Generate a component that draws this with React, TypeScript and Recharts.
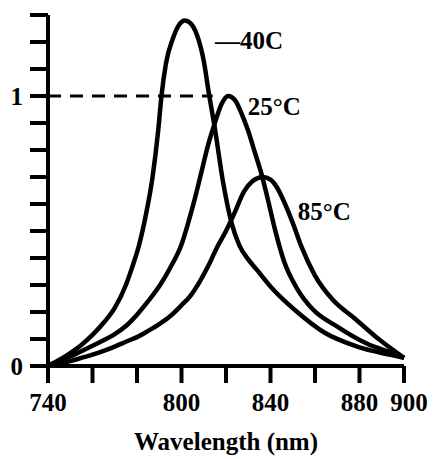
import React from 'react';
import { LineChart, Line, XAxis, YAxis, ReferenceLine, ReferenceDot } from 'recharts';

// Wavelength (nm) and normalised intensity for each temperature
const wlM40 = [740, 745, 750, 755, 760, 765, 770, 775, 778, 781, 784, 787, 789.5, 791, 793, 796, 799, 801.5, 804, 807, 810, 812.3, 815, 818.7, 822.5, 826, 830, 834, 841, 852, 864, 879, 894, 900];
const valM40 = [0, 0.022, 0.048, 0.078, 0.115, 0.16, 0.215, 0.3, 0.37, 0.45, 0.56, 0.7, 0.87, 1.0, 1.12, 1.21, 1.265, 1.28, 1.27, 1.225, 1.13, 1.01, 0.88, 0.68, 0.53, 0.447, 0.395, 0.355, 0.285, 0.2, 0.125, 0.072, 0.041, 0.03];

const wl25 = [740, 745, 750, 755, 760, 765, 770, 775, 780, 785, 790, 795, 800, 803, 806, 809, 812, 815, 818, 821, 824, 827, 830, 833, 836, 839, 842, 846, 852, 859, 870, 883, 897, 900];
const val25 = [0, 0.018, 0.035, 0.055, 0.075, 0.095, 0.118, 0.148, 0.19, 0.24, 0.295, 0.365, 0.45, 0.53, 0.62, 0.72, 0.82, 0.9, 0.97, 1.0, 0.985, 0.935, 0.87, 0.79, 0.71, 0.61, 0.506, 0.39, 0.286, 0.21, 0.146, 0.084, 0.041, 0.03];

const wl85 = [740, 745, 750, 755, 760, 765, 770, 775, 780, 785, 790, 795, 800, 804, 808, 812, 816, 820, 824, 828, 832, 836.5, 840, 843, 846, 850, 854, 860, 868, 878, 889, 900];
const val85 = [0, 0.008, 0.018, 0.03, 0.042, 0.056, 0.072, 0.09, 0.107, 0.13, 0.155, 0.185, 0.225, 0.26, 0.31, 0.37, 0.44, 0.5, 0.57, 0.645, 0.685, 0.7, 0.69, 0.66, 0.61, 0.53, 0.44, 0.335, 0.245, 0.175, 0.097, 0.03];

const xTicks = [740, 760, 780, 800, 820, 840, 860, 880, 900];
const xTickLabels = [740, 800, 840, 880, 900];
const yTicks = [0, 0.1, 0.2, 0.3, 0.4, 0.5, 0.6, 0.7, 0.8, 0.9, 1, 1.1, 1.2, 1.3];
const yTickLabels = [0, 1];

const seriesLabels = ['—40C', '25°C', '85°C'];
const labelWl = [815, 829.8, 852.3];
const labelVal = [1.208, 0.963, 0.572];

const refStart = 740;
const refEnd = 814;
const refValue = 1;

const zip = (w: number[], v: number[]) => w.map((x, i) => ({ wl: x, v: v[i] }));
const dataM40 = zip(wlM40, valM40);
const data25 = zip(wl25, val25);
const data85 = zip(wl85, val85);

const FONT = '"Liberation Serif", "DejaVu Serif", serif';

const XTick = (props: any) => {
  const { x, y, payload } = props;
  const v = payload.value;
  if (!xTickLabels.includes(v)) return null;
  const dx = v === 900 ? 5 : 0;
  return (
    <text x={x + dx} y={y} dy="0.71em" textAnchor="middle" fontFamily={FONT} fontSize={25} fontWeight="bold" fill="#000">
      {v}
    </text>
  );
};

const YTick = (props: any) => {
  const { x, y, payload } = props;
  const v = payload.value;
  if (!yTickLabels.includes(v)) return null;
  return (
    <text x={x} y={y} dy="0.355em" textAnchor="end" fontFamily={FONT} fontSize={25} fontWeight="bold" fill="#000">
      {v}
    </text>
  );
};

const makeLabel = (text: string) => (props: any) => (
  <text x={props.cx} y={props.cy} dy="0.355em" textAnchor="start" fontFamily={FONT} fontSize={25} fontWeight="bold" fill="#000">
    {text}
  </text>
);

export default function App() {
  return (
    <div style={{ position: 'absolute', left: 0, top: 0, width: 433, height: 459, background: '#fff' }}>
      <LineChart width={433} height={459} margin={{ top: 15, right: 29, left: 0, bottom: 0 }}>
        <XAxis
          type="number"
          dataKey="wl"
          domain={[740, 900]}
          ticks={xTicks}
          interval={0}
          height={93}
          tickSize={17}
          tickMargin={10}
          stroke="#000"
          strokeWidth={4}
          tickLine={{ stroke: '#000', strokeWidth: 4 }}
          tick={<XTick />}
          label={{ value: 'Wavelength (nm)', position: 'insideBottom', offset: 9, fill: '#000', fontSize: 25, fontWeight: 'bold', fontFamily: FONT }}
        />
        <YAxis
          type="number"
          domain={[0, 1.3]}
          ticks={yTicks}
          interval={0}
          width={48}
          tickSize={18}
          tickMargin={7}
          stroke="#000"
          strokeWidth={4}
          tickLine={{ stroke: '#000', strokeWidth: 4 }}
          tick={<YTick />}
        />
        <ReferenceLine
          segment={[{ x: refStart, y: refValue }, { x: refEnd, y: refValue }]}
          stroke="#000"
          strokeWidth={3}
          strokeDasharray="13 9"
        />
        <Line data={dataM40} dataKey="v" type="monotone" stroke="#000" strokeWidth={4.5} dot={false} isAnimationActive={false} />
        <Line data={data25} dataKey="v" type="monotone" stroke="#000" strokeWidth={4.5} dot={false} isAnimationActive={false} />
        <Line data={data85} dataKey="v" type="monotone" stroke="#000" strokeWidth={4.5} dot={false} isAnimationActive={false} />
        {seriesLabels.map((t, i) => (
          <ReferenceDot key={t} x={labelWl[i]} y={labelVal[i]} r={0} shape={makeLabel(t)} />
        ))}
      </LineChart>
    </div>
  );
}
